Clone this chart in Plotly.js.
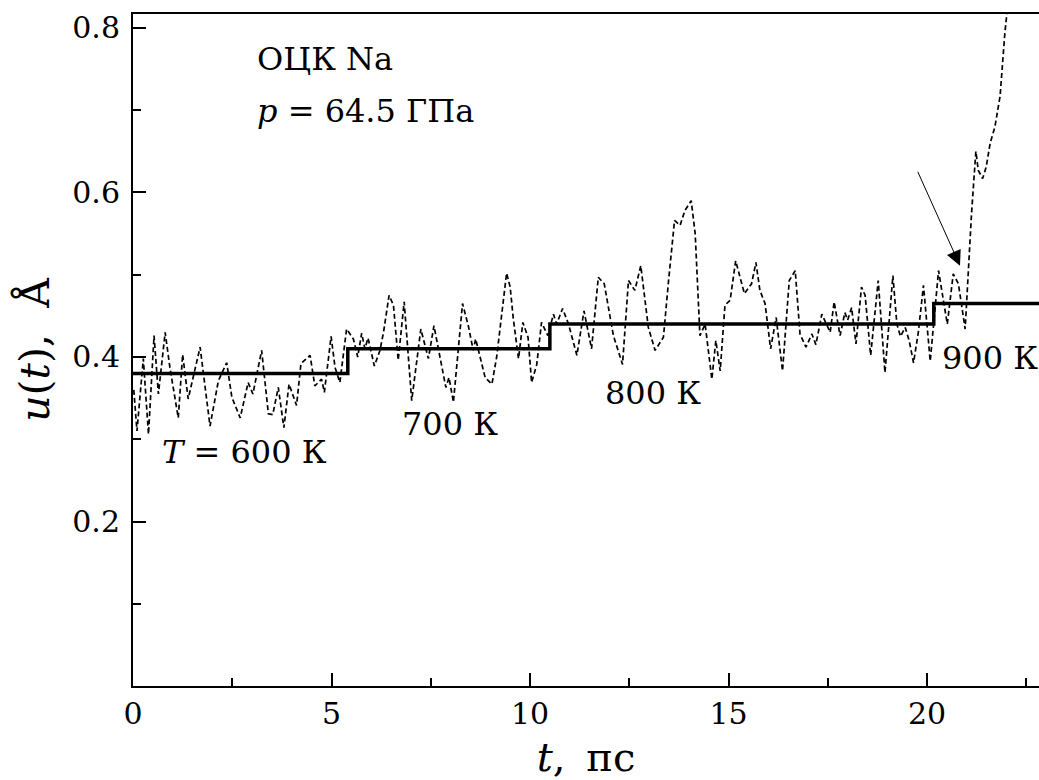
<!DOCTYPE html>
<html>
<head>
<meta charset="utf-8">
<script src="https://cdn.plot.ly/plotly-3.0.1.min.js"></script>
<style>
  html, body { margin: 0; padding: 0; background: #fff; }
  #chart { width: 1039px; height: 780px; }
</style>
</head>
<body>
<div id="chart"></div>
<script>
// Mean-square displacement u(t) of BCC Na at p = 64.5 GPa, heated in steps
const tNoise = [0.02, 0.10, 0.26, 0.39, 0.53, 0.64, 0.81, 0.93, 1.14, 1.25, 1.39, 1.56, 1.69, 1.94, 2.15, 2.36, 2.49, 2.70, 2.90, 3.02, 3.24, 3.41, 3.52, 3.66, 3.80, 3.93, 4.12, 4.23, 4.46, 4.58, 4.75, 4.82, 4.99, 5.09, 5.21, 5.38, 5.55, 5.66, 5.76, 5.84, 5.92, 6.08, 6.22, 6.31, 6.45, 6.56, 6.68, 6.83, 7.02, 7.25, 7.44, 7.58, 7.82, 7.88, 7.96, 8.07, 8.30, 8.45, 8.57, 8.63, 8.87, 9.04, 9.16, 9.41, 9.50, 9.58, 9.71, 9.82, 9.95, 10.04, 10.17, 10.29, 10.45, 10.59, 10.67, 10.82, 10.97, 11.18, 11.36, 11.55, 11.72, 11.87, 12.10, 12.33, 12.48, 12.64, 12.79, 12.98, 13.15, 13.36, 13.49, 13.64, 13.78, 13.90, 14.06, 14.16, 14.28, 14.41, 14.58, 14.68, 14.79, 14.91, 15.04, 15.18, 15.40, 15.58, 15.69, 15.79, 15.92, 16.06, 16.20, 16.36, 16.53, 16.68, 16.80, 16.95, 17.10, 17.20, 17.35, 17.56, 17.66, 17.81, 17.93, 18.00, 18.10, 18.21, 18.35, 18.44, 18.58, 18.77, 18.94, 19.14, 19.24, 19.33, 19.45, 19.55, 19.66, 19.78, 19.91, 20.08, 20.29, 20.39, 20.51, 20.66, 20.79, 20.96, 21.04, 21.12, 21.23, 21.29, 21.40, 21.49, 21.59, 21.71, 21.84, 21.88, 21.96, 22.01, 22.06];
const uNoise = [0.360, 0.310, 0.398, 0.306, 0.426, 0.355, 0.430, 0.387, 0.326, 0.403, 0.349, 0.386, 0.412, 0.316, 0.371, 0.393, 0.351, 0.326, 0.369, 0.355, 0.408, 0.331, 0.330, 0.363, 0.314, 0.367, 0.341, 0.392, 0.402, 0.365, 0.373, 0.357, 0.425, 0.387, 0.369, 0.434, 0.422, 0.400, 0.429, 0.410, 0.423, 0.389, 0.408, 0.430, 0.475, 0.463, 0.396, 0.467, 0.347, 0.434, 0.398, 0.438, 0.379, 0.363, 0.375, 0.345, 0.465, 0.437, 0.408, 0.422, 0.375, 0.367, 0.400, 0.502, 0.485, 0.446, 0.398, 0.442, 0.424, 0.369, 0.391, 0.442, 0.426, 0.452, 0.440, 0.459, 0.440, 0.402, 0.456, 0.410, 0.497, 0.489, 0.426, 0.391, 0.493, 0.481, 0.511, 0.436, 0.408, 0.424, 0.493, 0.566, 0.560, 0.578, 0.590, 0.550, 0.426, 0.440, 0.373, 0.420, 0.383, 0.463, 0.469, 0.517, 0.477, 0.489, 0.515, 0.481, 0.465, 0.410, 0.448, 0.383, 0.493, 0.505, 0.428, 0.412, 0.428, 0.415, 0.452, 0.430, 0.467, 0.426, 0.454, 0.445, 0.460, 0.416, 0.485, 0.475, 0.402, 0.493, 0.381, 0.499, 0.440, 0.425, 0.436, 0.420, 0.393, 0.430, 0.487, 0.395, 0.505, 0.477, 0.440, 0.501, 0.489, 0.434, 0.509, 0.574, 0.650, 0.627, 0.617, 0.631, 0.660, 0.680, 0.717, 0.745, 0.794, 0.817, 0.850];

// Plateau (time-averaged) level for each temperature stage
const tStep = [0, 5.41, 10.5, 20.17, 22.82];
const uStep = [0.380, 0.410, 0.440, 0.465, 0.465];

// Stage labels
const stageLabels = ['<i>T</i> = 600 К', '700 К', '800 К', '900 К'];
const stageT = [0.68, 6.73, 11.84, 20.33];
const stageU = [0.285, 0.319, 0.356, 0.3985];

// Axis ticks
const xTicks = [0, 5, 10, 15, 20];
const xMinor = [2.5, 7.5, 12.5, 17.5, 22.5];
const yTicks = [0.2, 0.4, 0.6, 0.8];
const yMinor = [0.1, 0.3, 0.5, 0.7];

const FONT = 'DejaVu Serif';

const traces = [
  {
    x: tNoise, y: uNoise, type: 'scatter', mode: 'lines',
    line: {color: '#000', width: 1.7, dash: '5px,3px'},
    hoverinfo: 'skip'
  },
  {
    x: tStep, y: uStep, type: 'scatter', mode: 'lines',
    line: {color: '#000', width: 3.5, shape: 'hv'},
    hoverinfo: 'skip'
  }
];

const annotations = stageLabels.map((txt, i) => ({
  x: stageT[i], y: stageU[i], xref: 'x', yref: 'y',
  text: txt, showarrow: false, xanchor: 'left', yanchor: 'middle',
  font: {family: FONT, size: 32, color: '#000'}
}));

annotations.push(
  {x: 3.07, y: 0.7626, xref: 'x', yref: 'y', text: 'ОЦК Na', showarrow: false,
   xanchor: 'left', yanchor: 'middle', font: {family: FONT, size: 32, color: '#000'}},
  {x: 3.07, y: 0.699, xref: 'x', yref: 'y', text: '<i>p</i> = 64.5 ГПа', showarrow: false,
   xanchor: 'left', yanchor: 'middle', font: {family: FONT, size: 32, color: '#000'}},
  // marker pointing at the onset of melting
  {x: 20.83, y: 0.511, xref: 'x', yref: 'y', ax: 19.75, ay: 0.627, axref: 'x', ayref: 'y',
   text: '', showarrow: true, arrowhead: 2, arrowsize: 3, arrowwidth: 1, arrowcolor: '#000'}
);

const axisCommon = {
  ticks: 'inside', ticklen: 13, tickwidth: 2, tickcolor: '#000',
  showline: true, linewidth: 2, linecolor: '#000',
  showgrid: false, zeroline: false,
  tickfont: {family: FONT, size: 30, color: '#000'}
};

const layout = {
  width: 1039, height: 780,
  margin: {l: 133, r: 0, t: 14, b: 94, pad: 0},
  paper_bgcolor: '#fff', plot_bgcolor: '#fff',
  showlegend: false,
  font: {family: FONT, color: '#000'},
  xaxis: Object.assign({}, axisCommon, {
    range: [0, 22.82], tickmode: 'array', tickvals: xTicks, mirror: true,
    minor: {tickmode: 'array', tickvals: xMinor, ticks: 'inside', ticklen: 8, tickwidth: 2, tickcolor: '#000', showgrid: false},
    title: {text: '<i>t</i>,\u00a0\u2009пс', font: {family: FONT, size: 40, color: '#000'}}
  }),
  yaxis: Object.assign({}, axisCommon, {
    range: [0, 0.817], tickmode: 'array', tickvals: yTicks, mirror: false,
    ticklabelstandoff: 5,
    minor: {tickmode: 'array', tickvals: yMinor, ticks: 'inside', ticklen: 8, tickwidth: 2, tickcolor: '#000', showgrid: false},
    title: {text: '<i>u</i>(<i>t</i>),\u00a0\u00a0Å', font: {family: FONT, size: 41, color: '#000'}, standoff: 10}
  }),
  annotations: annotations
};

Plotly.newPlot('chart', traces, layout, {staticPlot: true, displayModeBar: false});
</script>
</body>
</html>
